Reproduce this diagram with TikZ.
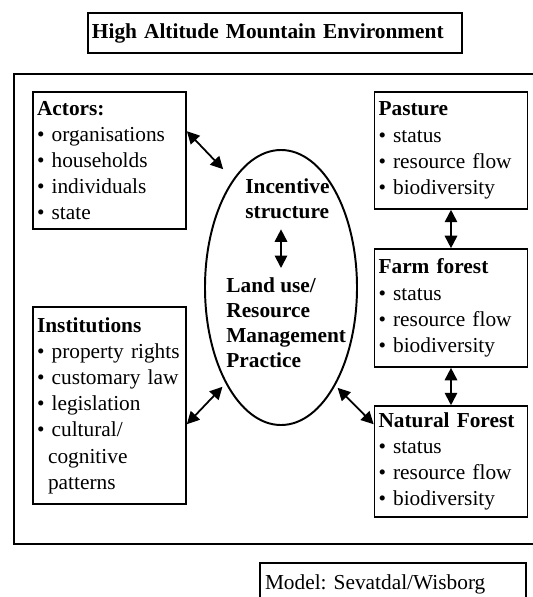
\documentclass[tikz,border=0pt]{standalone}
\usepackage{fontspec}
\setmainfont{Liberation Serif}
\usetikzlibrary{shapes.geometric,arrows.meta}
\frenchspacing

\tikzset{
  box/.style={draw, line width=0.9pt, align=left, inner xsep=2.3pt, inner ysep=0pt,
    text width=81.5pt, font=\fontsize{12}{14.74}\selectfont},
  dbl/.style={{Triangle[length=7pt,width=7pt]}-{Triangle[length=7pt,width=7pt]}, line width=1pt},
  lbl/.style={align=left, inner sep=0pt, font=\fontsize{12}{14.06}\selectfont\bfseries},
}
\newcommand{\itm}{\textbullet\ }

\begin{document}
\begin{tikzpicture}[x=0.5625pt, y=-0.5625pt]
    \useasboundingbox (0,0) rectangle (533,597);

    % Title and frame
    \node[box, text width=205.9pt, minimum height=22.5pt, font=\fontsize{12}{14.74}\selectfont\bfseries] (title) at (275,33) {High Altitude Mountain Environment};
    \draw[line width=0.9pt] (540,74) -- (14,74) -- (14,544) -- (540,544);

    % Left column
    \node[box, minimum height=77.1pt] (actors) at (109.5,160.5) {{\bfseries Actors:}\\
        \itm organisations\\
        \itm households\\
        \itm individuals\\
        \itm state};
    \node[box, minimum height=110.8pt] (inst) at (109.5,405.5) {{\bfseries Institutions}\\
        \itm property rights\\
        \itm customary law\\
        \itm legislation\\
        \itm cultural/\\
        \hspace*{6.2pt}cognitive\\
        \hspace*{6.2pt}patterns};

    % Right column
    \node[box, minimum height=65.8pt] (pasture) at (451,150.5) {{\bfseries Pasture}\\
        \itm status\\
        \itm resource flow\\
        \itm biodiversity};
    \node[box, minimum height=66.4pt] (farm) at (451,308) {{\bfseries Farm forest}\\
        \itm status\\
        \itm resource flow\\
        \itm biodiversity};
    \node[box, minimum height=62.4pt] (natural) at (451,461.5) {{\bfseries Natural Forest}\\
        \itm status\\
        \itm resource flow\\
        \itm biodiversity};

    % Centre ellipse
    \node[draw, ellipse, line width=1.1pt, minimum width=85.5pt, minimum height=154.7pt, inner sep=0pt] (ell) at (281,287.5) {};
    \node[lbl, anchor=north west] (incentive) at (245,178.6) {Incentive\\structure};
    \node[lbl, anchor=north west] (landuse) at (226,277.6) {Land use/\\Resource\\Management\\Practice};

    % Links
    \draw[dbl, shorten <=5.6pt, shorten >=5.4pt] (ell.center |- incentive.south) -- (ell.center |- landuse.north);
    \draw[dbl, shorten >=7.9pt] ([yshift=-22.5pt]actors.north east) -- (ell.114);
    \draw[dbl, shorten >=2.5pt] ([yshift=-66.4pt]inst.north east) -- (ell.240);
    \draw[dbl, shorten >=1.8pt] ([yshift=-10.7pt]natural.north west) -- (ell.299);
    \draw[dbl] (pasture) -- (farm);
    \draw[dbl] (farm) -- (natural);

    \node[box, text width=144pt, minimum height=23.6pt, inner xsep=2.8pt] (model) at (393,584) {Model: Sevatdal/Wisborg};
\end{tikzpicture}
\end{document}
